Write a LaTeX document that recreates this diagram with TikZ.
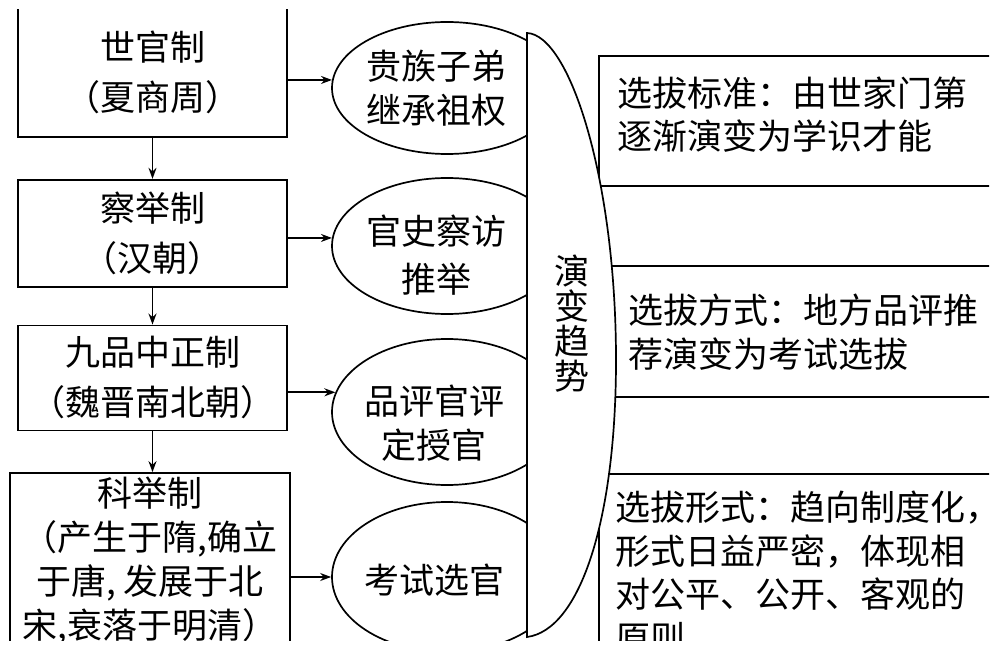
\documentclass[tikz,border=0pt]{standalone}
\usepackage{fontspec}
\setmainfont{Noto Sans CJK SC}
\usepackage{tikz}
\usetikzlibrary{shapes.geometric, arrows.meta, positioning, calc}
\tikzstyle{arrow} = [line width=1.7pt,-{Stealth[length=11pt,width=8pt]}]
\tikzstyle{era} = [rectangle, draw=black, line width=1.7pt, minimum width=269pt, align=center, inner sep=0pt, font=\fontsize{35}{50}\selectfont]
\tikzstyle{way} = [ellipse, draw=black, line width=1.7pt, minimum width=230pt, inner sep=0pt]
\tikzstyle{waytext} = [align=center, inner sep=0pt, font=\fontsize{35}{44}\selectfont]
\tikzstyle{trend} = [rectangle, draw=black, line width=1.7pt, anchor=north west, minimum width=420pt]
\tikzstyle{note} = [align=left, inner sep=0pt, font=\fontsize{35}{43.5}\selectfont]

\begin{document}
\begin{tikzpicture}[x=1pt, y=-1pt]
\useasboundingbox (0,0) rectangle (1000,652);
\clip (0,10) rectangle (989,640);

% systems
\node[era, minimum height=130pt] (shiguan) at (152.5,72) {世官制\\（夏商周）};
\node[era, minimum height=107pt, below=41pt of shiguan] (chaju) {察举制\\（汉朝）};
\node[era, minimum height=105pt, below=37pt of chaju] (jiupin) {九品中正制\\（魏晋南北朝）};
\node[era, minimum width=280pt, minimum height=177pt, font=\fontsize{35}{44}\selectfont] (keju) at (150,561.5)
    {科举制\\（产生于隋,确立\\于唐, 发展于北\\宋,衰落于明清）};

% ways of choosing officials
\node[way, minimum height=132pt] (e1) at (447,88) {};
\node[way, minimum height=136pt] (e2) at (447,246) {};
\node[way, minimum height=146pt] (e3) at (447,412) {};
\node[way, minimum height=150pt] (e4) at (447,577) {};
\node[waytext] (e1t) at ([xshift=-11pt]e1.center) {贵族子弟\\继承祖权};
\node[waytext, font=\fontsize{35}{48}\selectfont] (e2t) at ([xshift=-11pt, yshift=-9pt]e2.center) {官史察访\\推举};
\node[waytext] (e3t) at ([xshift=-13pt, yshift=-11pt]e3.center) {品评官评\\定授官};
\node[waytext] (e4t) at ([xshift=-13pt, yshift=-3pt]e4.center) {考试选官};

\draw[arrow] (shiguan) -- (chaju);
\draw[arrow] (chaju) -- (jiupin);
\draw[arrow] (jiupin.south) -- (jiupin.south |- keju.north);

\draw[arrow] (shiguan.east |- e1.176) -- (e1.176);
\draw[arrow] (chaju.east |- e2.176) -- (e2.176);
\draw[arrow] (jiupin.east |- e3.170) -- (e3.170);
\draw[arrow] (keju.east |- e4.west) -- (e4.west);

% trend boxes
\node[trend, minimum height=130pt] (r1) at (598,55) {};
\node[trend, minimum height=131pt] (r2) at (605,265) {};
\node[trend, minimum height=250pt] (r3) at (598,473) {};

% trend band
\draw[line width=1.7pt, fill=white] (527,33) -- (527,637)
    .. controls (580,630) and (616,520) .. (616,360)
    .. controls (616,180) and (570,35) .. (527,33) -- cycle;
\node[align=center, inner sep=0pt, font=\fontsize{35}{35}\selectfont] (trendtxt) at (572,324) {演\\变\\趋\\势};

\node[note, anchor=west] (t1) at ([xshift=19pt, yshift=6pt]r1.west) {选拔标准：由世家门第\\逐渐演变为学识才能};
\node[note, anchor=west] (t2) at ([xshift=23pt, yshift=-1pt]r2.west) {选拔方式：地方品评推\\荐演变为考试选拔};
\node[note, anchor=north west] (t3) at ([xshift=17pt, yshift=-18pt]r3.north west) {选拔形式：趋向制度化，\\形式日益严密，体现相\\对公平、公开、客观的\\原则};
\end{tikzpicture}
\end{document}
